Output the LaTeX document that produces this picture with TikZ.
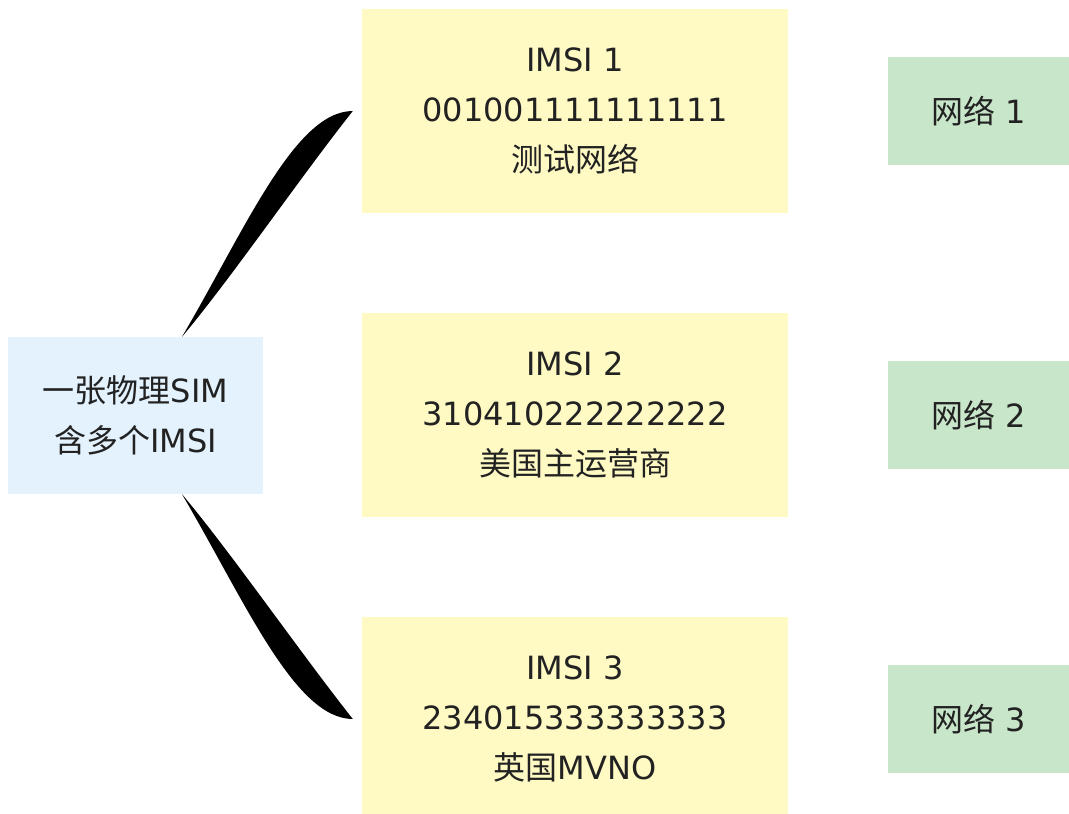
\documentclass[tikz,border=0pt]{standalone}
\usepackage{fontspec}
\setmainfont{DejaVu Sans}
\newfontfamily\cjk{Noto Sans CJK SC}
\usepackage{tikz}
\definecolor{simblue}{HTML}{E3F2FD}
\definecolor{imsiyellow}{HTML}{FFF9C4}
\definecolor{netgreen}{HTML}{C8E6C9}
\definecolor{txt}{HTML}{222222}

\begin{document}
\begin{tikzpicture}[x=1pt,y=-1pt,
    box/.style={rectangle,inner sep=0pt,align=center,text=txt,font=\fontsize{32}{50}\selectfont},
    simbox/.style={box,fill=simblue,minimum width=255,minimum height=157},
    imsibox/.style={box,fill=imsiyellow,minimum width=426,minimum height=204},
    netbox/.style={box,fill=netgreen,minimum width=181,minimum height=108}]
  \useasboundingbox (0,0) rectangle (1069,814);
  \node[simbox] (sim) at (135.5,415.5) {{\cjk 一张物理}SIM\\{\cjk 含多个}IMSI};
  \node[imsibox] (imsi1) at (575,111) {IMSI 1\\001001111111111\\{\cjk 测试网络}};
  \node[imsibox] (imsi2) at (575,415) {IMSI 2\\310410222222222\\{\cjk 美国主运营商}};
  \node[imsibox] (imsi3) at (575,719) {IMSI 3\\234015333333333\\{\cjk 英国}MVNO};
  \node[netbox] (net1) at (978.5,111) {{\cjk 网络} 1};
  \node[netbox] (net2) at (978.5,415) {{\cjk 网络} 2};
  \node[netbox] (net3) at (978.5,719) {{\cjk 网络} 3};
  \fill ([xshift=46.5pt]sim.north) .. controls +(63,-107) and +(-58,0) .. ([xshift=-9pt]imsi1.west)
    .. controls +(-53,67) and +(48,-57) .. ([xshift=46.5pt]sim.north);
  \fill ([xshift=46.5pt]sim.south) .. controls +(63,107) and +(-58,0) .. ([xshift=-9pt]imsi3.west)
    .. controls +(-53,-67) and +(48,57) .. ([xshift=46.5pt]sim.south);
\end{tikzpicture}
\end{document}
